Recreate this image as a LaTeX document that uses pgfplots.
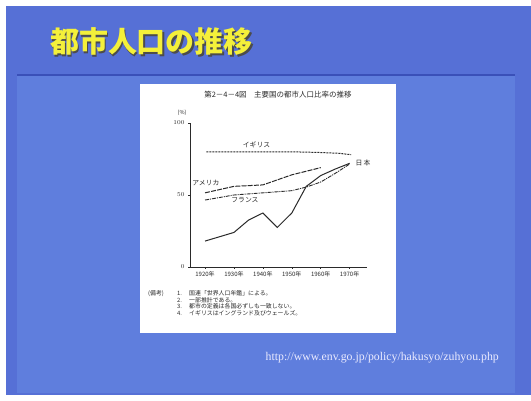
\documentclass[border=0pt]{standalone}
\usepackage{pgfplots}
\pgfplotsset{compat=1.18}
\usepackage{fontspec}
\setmainfont{Noto Sans CJK JP}
\newfontfamily\urlfont{Liberation Serif}
\definecolor{slide}{HTML}{5670D6}
\definecolor{panel}{HTML}{5F7EDD}
\definecolor{rule}{HTML}{3A50B8}
\definecolor{ttl}{HTML}{F4F03A}
\definecolor{ink}{HTML}{2A2A2A}

\begin{document}
\begin{tikzpicture}[x=1pt,y=1pt]
  % slide background
  \fill[white] (0,0) rectangle (531,401);
  \fill[slide] (6,6) rectangle (531,395);
  \fill[panel] (17,8) rectangle (515,326);
  \draw[rule, line width=1.5pt] (17,326) -- (515,326);

  % slide title
  \node[font=\fontsize{29}{32}\selectfont\bfseries, text=black!70] at (153,357.5) {都市人口の推移};
  \node[font=\fontsize{29}{32}\selectfont\bfseries, text=ttl] at (151.5,359) {都市人口の推移};

  % white figure box
  \fill[white] (140,68) rectangle (396,317);
  \node[font=\fontsize{7.5}{8}\selectfont, text=ink] at (278,306) {第2－4－4図\quad 主要国の都市人口比率の推移};

  \begin{axis}[
      at={(190pt,134pt)}, anchor=south west,
      scale only axis, width=177pt, height=144pt,
      xmin=1914.8, xmax=1976, ymin=0, ymax=100,
      axis lines=left, axis line style={-, ink, line width=0.9pt},
      xtick={1920,1930,1940,1950,1960,1970},
      xticklabels={1920年,1930年,1940年,1950年,1960年,1970年},
      ytick={0,50,100},
      tick style={ink, line width=0.6pt},
      major tick length=2pt,
      tick align=outside,
      tick label style={font=\fontsize{6}{7}\selectfont, text=ink},
      xticklabel style={yshift=1pt},
      clip=false,
    ]
    % UK
    \addplot[ink, line width=1pt, dash pattern=on 2pt off 1pt] coordinates {
      (1920.5,80) (1930,80) (1940,80) (1950,80) (1960,79.5) (1966,79) (1970.5,78)
    };
    % USA
    \addplot[ink, line width=1pt, dash pattern=on 5pt off 1.2pt] coordinates {
      (1920,51.5) (1930,56) (1940,57) (1950,64) (1960,69)
    };
    % France
    \addplot[ink, line width=0.9pt, dash pattern=on 4pt off 1pt on 1pt off 1pt] coordinates {
      (1920,46.5) (1930,50) (1940,51.5) (1950,53) (1955,55.5) (1960,59) (1965,65) (1970,71.5)
    };
    % Japan
    \addplot[ink, line width=1pt] coordinates {
      (1920,18) (1930,24) (1935,32.5) (1940,37.5) (1945,27.5) (1950,37.5) (1955,56) (1960,63.5) (1965,68) (1970,72)
    };
    \node[font=\fontsize{6.8}{7}\selectfont, text=ink] at (axis cs:1937.8,85) {イギリス};
    \node[font=\fontsize{6.8}{7}\selectfont, text=ink] at (axis cs:1920.3,58.5) {アメリカ};
    \node[font=\fontsize{6.8}{7}\selectfont, text=ink] at (axis cs:1933.8,46.5) {フランス};
    \node[font=\fontsize{6.8}{7}\selectfont, text=ink] at (axis cs:1974.6,72) {日\,本};
    \node[font=\fontsize{5.5}{6}\selectfont, text=ink, anchor=south east] at (axis cs:1914.8,103) {(\%)};
  \end{axis}

  % notes
  \begin{scope}[every node/.style={font=\fontsize{5.9}{6}\selectfont, text=ink, anchor=west, inner sep=0pt}]
    \node at (148,107.5) {(備考)};
    \node at (177,107.5) {1.};
    \node at (189,107.5) {国連「世界人口年鑑」による。};
    \node at (177,100.8) {2.};
    \node at (189,100.8) {一部推計である。};
    \node at (177,94.3) {3.};
    \node at (189,94.3) {都市の定義は各国必ずしも一致しない。};
    \node at (177,87.8) {4.};
    \node at (189,87.8) {イギリスはイングランド及びウェールズ。};
  \end{scope}

  % source
  \node[font=\urlfont\fontsize{11.8}{13}\selectfont, text=white!92!blue, anchor=east, inner sep=0pt] at (499,43) {http://www.env.go.jp/policy/hakusyo/zuhyou.php};
\end{tikzpicture}
\end{document}
